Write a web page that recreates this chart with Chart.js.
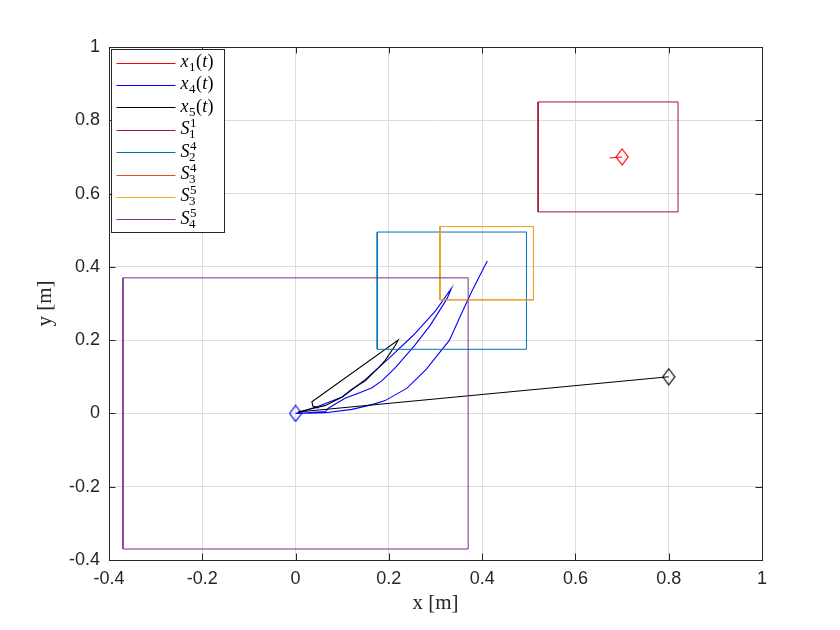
<!DOCTYPE html>
<html>
<head>
<meta charset="utf-8">
<script src="https://cdn.jsdelivr.net/npm/chart.js@4.4.1/dist/chart.umd.min.js"></script>
<style>
  html, body { margin: 0; padding: 0; background: #fff; }
  #wrap { width: 840px; height: 630px; }
</style>
</head>
<body>
<div id="wrap"><canvas id="plot"></canvas></div>
<script>
// axis ticks
const xTicks = [-0.4, -0.2, 0, 0.2, 0.4, 0.6, 0.8, 1];
const yTicks = [-0.4, -0.2, 0, 0.2, 0.4, 0.6, 0.8, 1];

// trajectories (first point = marker)
const x1X = [0.7, 0.673];
const x1Y = [0.7, 0.697];

const x4X = [0, 0.05, 0.1, 0.15, 0.2, 0.253, 0.3, 0.334,
             0.325, 0.289, 0.255, 0.214, 0.186, 0.164, 0.136, 0.107, 0.071, 0.064,
             0, 0.064, 0.121, 0.164, 0.192, 0.239, 0.28, 0.33, 0.354, 0.379, 0.411];
const x4Y = [0, 0.02, 0.045, 0.093, 0.15, 0.214, 0.28, 0.341,
             0.314, 0.241, 0.185, 0.125, 0.09, 0.07, 0.056, 0.042, 0.015, 0.005,
             0, 0.002, 0.011, 0.024, 0.035, 0.069, 0.12, 0.2, 0.268, 0.336, 0.416];

const x5X = [0.8, 0.005, 0.035, 0.064, 0.1, 0.121, 0.15, 0.178, 0.192, 0.214, 0.22, 0.035, 0.037, 0.05];
const x5Y = [0.1, 0.004, 0.013, 0.022, 0.045, 0.066, 0.09, 0.125, 0.145, 0.186, 0.2, 0.032, 0.02, 0.015];

// sets as [xmin, xmax, ymin, ymax]
const s11 = [0.52, 0.82, 0.55, 0.85];
const s24 = [0.175, 0.495, 0.175, 0.495];
const s34 = [0.31, 0.51, 0.31, 0.51];
const s35 = [0.31, 0.51, 0.31, 0.51];
const s45 = [-0.37, 0.37, -0.37, 0.37];

// legend entries: base letter, subscript, superscript, trailing text
const legendNames = [
    {base: 'x', sub: '1', sup: '', tail: '(t)'},
    {base: 'x', sub: '4', sup: '', tail: '(t)'},
    {base: 'x', sub: '5', sup: '', tail: '(t)'},
    {base: 'S', sub: '1', sup: '1', tail: ''},
    {base: 'S', sub: '2', sup: '4', tail: ''},
    {base: 'S', sub: '3', sup: '4', tail: ''},
    {base: 'S', sub: '3', sup: '5', tail: ''},
    {base: 'S', sub: '4', sup: '5', tail: ''}
];

const AXIS = '#262626';
const SERIF = '"Liberation Serif", "DejaVu Serif", serif';

function pts(xs, ys) {
    return xs.map((x, i) => ({x: x, y: ys[i]}));
}

function rect(b) {
    return pts([b[0], b[1], b[1], b[0], b[0]], [b[2], b[2], b[3], b[3], b[2]]);
}

function diamond(color) {
    const c = document.createElement('canvas');
    c.width = 14;
    c.height = 18;
    const g = c.getContext('2d');
    g.strokeStyle = color;
    g.lineWidth = 1.2;
    g.beginPath();
    g.moveTo(7, 1);
    g.lineTo(13, 9);
    g.lineTo(7, 17);
    g.lineTo(1, 9);
    g.closePath();
    g.stroke();
    return c;
}

function trajectory(xs, ys, color) {
    return {
        data: pts(xs, ys),
        borderColor: color,
        borderWidth: 1.1,
        pointStyle: diamond(color),
        pointRadius: c => c.dataIndex === 0 ? 6 : 0
    };
}

function setBox(b, color) {
    return {data: rect(b), borderColor: color, borderWidth: 1, pointRadius: 0};
}

const datasets = [
    trajectory(x1X, x1Y, '#ff0000'),
    trajectory(x4X, x4Y, '#0000ff'),
    trajectory(x5X, x5Y, '#000000'),
    setBox(s11, '#A2142F'),
    setBox(s24, '#0072BD'),
    setBox(s34, '#D95319'),
    setBox(s35, '#EDB120'),
    setBox(s45, '#7E2F8E')
];
datasets.forEach((d, i) => {
    d.showLine = true;
    d.fill = false;
    d.order = -i;   // later series on top, like MATLAB
});

function fmt(v) {
    return (Math.round(v * 10) / 10).toString();
}

// draws text like x_1(t) or S_1^1
function drawMath(ctx, item, x, y) {
    ctx.textAlign = 'left';
    ctx.textBaseline = 'alphabetic';
    ctx.font = 'italic 18px ' + SERIF;
    ctx.fillText(item.base, x, y);
    x += ctx.measureText(item.base).width + 0.5;
    ctx.font = '13px ' + SERIF;
    let w = 0;
    if (item.sup) {
        ctx.fillText(item.sup, x, y - 7);
        w = Math.max(w, ctx.measureText(item.sup).width);
    }
    if (item.sub) {
        ctx.fillText(item.sub, x - (item.sup ? 1 : 0), y + 4);
        w = Math.max(w, ctx.measureText(item.sub).width);
    }
    x += w + 0.5;
    for (const ch of item.tail) {
        ctx.font = (/[a-z]/i.test(ch) ? 'italic ' : '') + '18px ' + SERIF;
        ctx.fillText(ch, x, y);
        x += ctx.measureText(ch).width + 0.3;
    }
}

const framePlugin = {
    id: 'frame',
    afterDraw(chart) {
        const {ctx, chartArea: a} = chart;
        const tl = 6.5;
        const xs = chart.scales.x, ys = chart.scales.y;
        ctx.save();
        ctx.strokeStyle = AXIS;
        ctx.lineWidth = 1;
        ctx.beginPath();
        xTicks.forEach(v => {
            const p = Math.round(xs.getPixelForValue(v)) + 0.5;
            ctx.moveTo(p, a.bottom); ctx.lineTo(p, a.bottom - tl);
            ctx.moveTo(p, a.top); ctx.lineTo(p, a.top + tl);
        });
        yTicks.forEach(v => {
            const p = Math.round(ys.getPixelForValue(v)) + 0.5;
            ctx.moveTo(a.left, p); ctx.lineTo(a.left + tl, p);
            ctx.moveTo(a.right, p); ctx.lineTo(a.right - tl, p);
        });
        ctx.stroke();
        ctx.strokeRect(Math.round(a.left) + 0.5, Math.round(a.top) + 0.5,
                       Math.round(a.right - a.left), Math.round(a.bottom - a.top));

        // legend box, top left inside the axes
        const lx = Math.round(a.left) + 2.5, ly = Math.round(a.top) + 2.5;
        const lw = 113, rowH = 22.4;
        const lh = Math.round(rowH * legendNames.length + 4);
        ctx.fillStyle = '#fff';
        ctx.fillRect(lx, ly, lw, lh);
        ctx.strokeStyle = AXIS;
        ctx.strokeRect(lx, ly, lw, lh);
        legendNames.forEach((item, i) => {
            const cy = ly + 13 + i * rowH;
            ctx.strokeStyle = chart.data.datasets[i].borderColor;
            ctx.beginPath();
            ctx.moveTo(lx + 5, Math.round(cy) + 0.5);
            ctx.lineTo(lx + 64, Math.round(cy) + 0.5);
            ctx.stroke();
            ctx.fillStyle = '#000';
            drawMath(ctx, item, lx + 69, cy + 4.5);
        });
        ctx.restore();
    }
};

const tickFont = {family: '"Liberation Sans", Arial, sans-serif', size: 18};

new Chart(document.getElementById('plot').getContext('2d'), {
    type: 'scatter',
    data: {datasets: datasets},
    options: {
        responsive: true,
        maintainAspectRatio: false,
        animation: false,
        devicePixelRatio: 1,
        layout: {padding: {top: 47, right: 78, left: 0, bottom: 0}},
        plugins: {
            legend: {display: false},
            tooltip: {enabled: false}
        },
        elements: {line: {tension: 0}},
        scales: {
            x: {
                type: 'linear',
                min: -0.4,
                max: 1,
                afterBuildTicks: s => { s.ticks = xTicks.map(v => ({value: v})); },
                afterFit: s => { s.height = 70; },
                grid: {color: '#dedede', drawTicks: false},
                border: {display: false},
                ticks: {padding: 8, color: AXIS, font: tickFont, maxRotation: 0, autoSkip: false, callback: fmt},
                title: {display: true, text: 'x [m]', color: AXIS, font: {family: SERIF, size: 21}, padding: {top: 0, bottom: 14}}
            },
            y: {
                type: 'linear',
                min: -0.4,
                max: 1,
                afterBuildTicks: s => { s.ticks = yTicks.map(v => ({value: v})); },
                afterFit: s => { s.width = 109; },
                grid: {color: '#dedede', drawTicks: false},
                border: {display: false},
                ticks: {padding: 9, color: AXIS, font: tickFont, autoSkip: false, callback: fmt},
                title: {display: true, text: 'y [m]', color: AXIS, font: {family: SERIF, size: 21}, padding: {top: 33, bottom: 0}}
            }
        }
    },
    plugins: [framePlugin]
});
</script>
</body>
</html>
